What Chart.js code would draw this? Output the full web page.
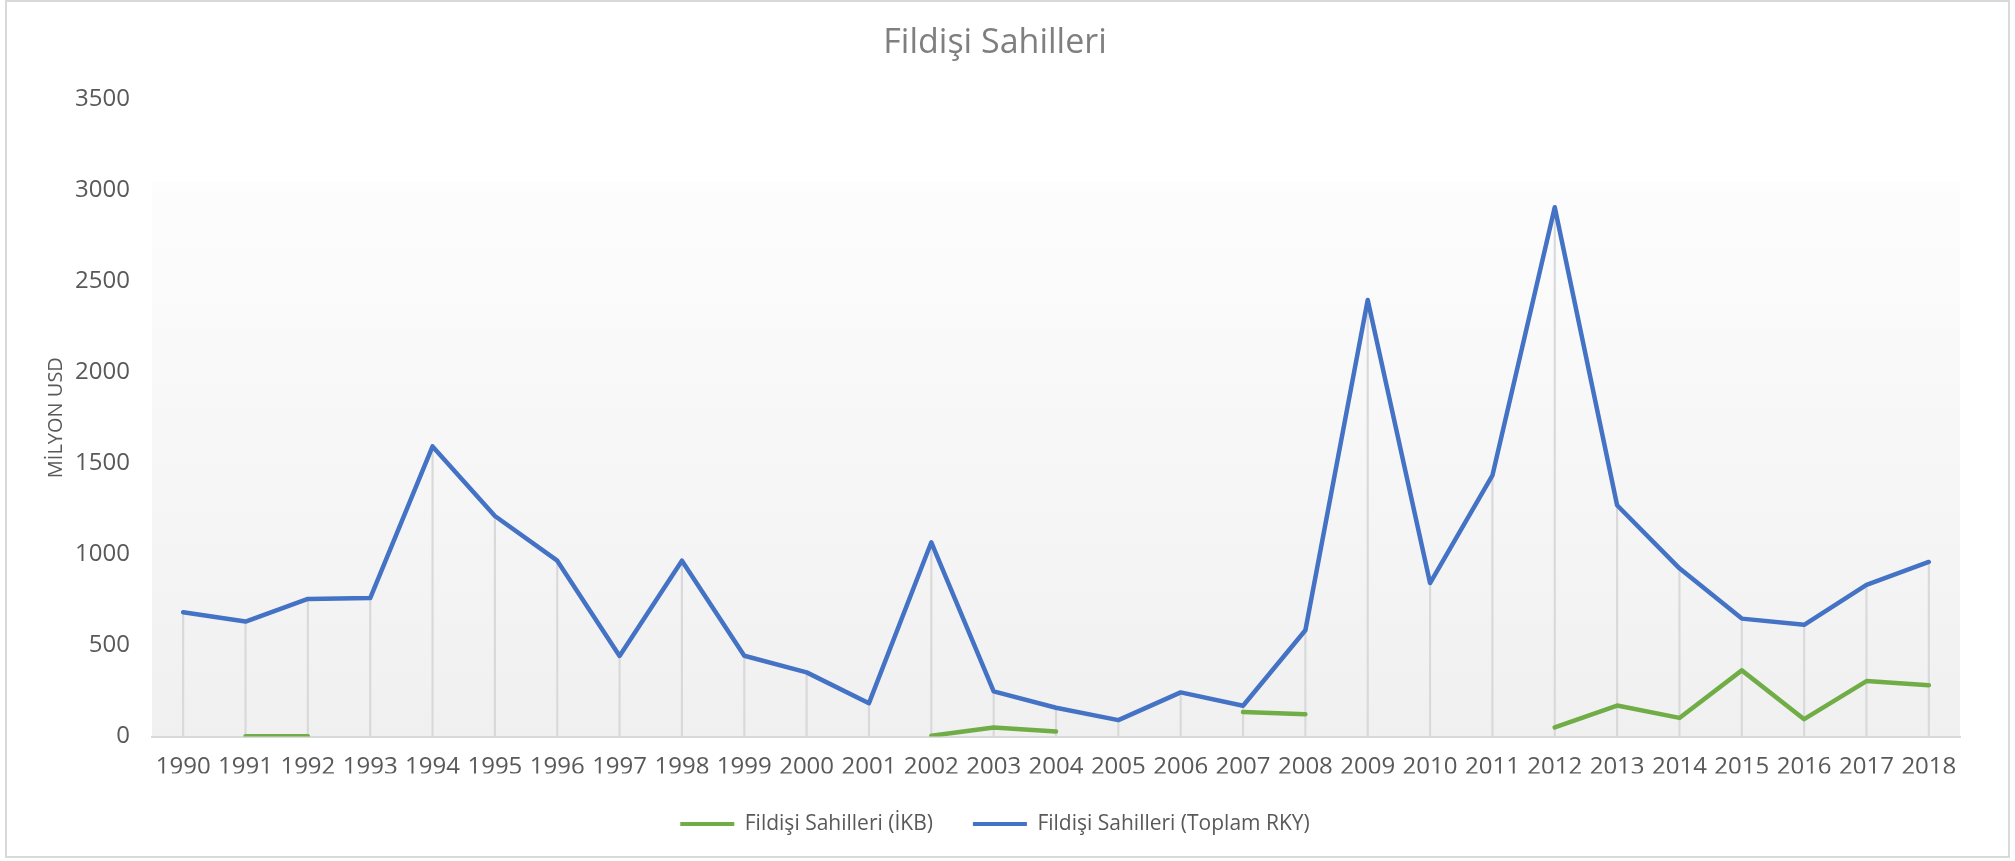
<!DOCTYPE html>
<html>
<head>
<meta charset="utf-8">
<script src="https://cdn.jsdelivr.net/npm/chart.js@4.4.0/dist/chart.umd.min.js"></script>
<style>
  html, body { margin: 0; padding: 0; background: #fff; }
  #wrap { width: 2015px; height: 861px; }
</style>
</head>
<body>
<div id="wrap"><canvas id="myChart" width="2015" height="861"></canvas></div>
<script>
// veriler
const yillar = ["1990", "1991", "1992", "1993", "1994", "1995", "1996", "1997", "1998", "1999",
	"2000", "2001", "2002", "2003", "2004", "2005", "2006", "2007", "2008", "2009",
	"2010", "2011", "2012", "2013", "2014", "2015", "2016", "2017", "2018"];

const ikb = [null, 2, 1, null, null, null, null, null, null, null,
	null, null, 4, 49, 27, null, null, 134, 122, null,
	null, null, 50, 170, 102, 363, 95, 304, 281];

const toplamRky = [682, 631, 755, 760, 1592, 1210, 965, 442, 965, 443,
	352, 183, 1066, 248, 158, 90, 242, 169, 583, 2396,
	842, 1433, 2905, 1269, 923, 647, 613, 832, 958];

const yEksenMax = 3500;
const yEksenAdim = 500;

const baslik = "Fildişi Sahilleri";
const seriAdlari = ["Fildişi Sahilleri (İKB)", "Fildişi Sahilleri (Toplam RKY)"];
const yEksenBaslik = "MİLYON USD";

const yesil = "#70AD47";
const mavi = "#4472C4";
const yaziRengi = "#595959";
const font = "'Open Sans', 'Liberation Sans', sans-serif";

// arka plan ve cerceve
const arkaPlan = {
	id: "arkaPlan",
	beforeDraw(chart) {
		const { ctx, chartArea } = chart;
		const h = chartArea.bottom - chartArea.top;
		const ust = chartArea.top + h * 0.13;
		const grad = ctx.createLinearGradient(0, ust, 0, chartArea.bottom);
		grad.addColorStop(0, "#fdfdfd");
		grad.addColorStop(1, "#f0f0f0");
		ctx.save();
		ctx.fillStyle = grad;
		ctx.fillRect(chartArea.left, ust, chartArea.right - chartArea.left, chartArea.bottom - ust);
		ctx.restore();
	},
	afterDraw(chart) {
		const ctx = chart.ctx;
		ctx.save();
		ctx.strokeStyle = "#d9d9d9";
		ctx.lineWidth = 2;
		ctx.strokeRect(6, 1, 2003, 856);
		ctx.restore();
	}
};

const ctx = document.getElementById("myChart");

let grafik = new Chart(ctx, {
	type: "line",
	data: {
		labels: yillar,
		datasets: [
			{
				label: seriAdlari[0],
				data: ikb,
				borderColor: yesil,
				backgroundColor: yesil,
				borderWidth: 4.5,
				borderCapStyle: "round",
				borderJoinStyle: "round",
				pointRadius: 0,
				spanGaps: false,
				order: 1,
			},
			{
				label: seriAdlari[1],
				data: toplamRky,
				borderColor: mavi,
				backgroundColor: mavi,
				borderWidth: 4.5,
				borderCapStyle: "round",
				borderJoinStyle: "round",
				pointRadius: 0,
				order: 2,
			},
			{
				// dikey inis cizgileri
				type: "bar",
				label: "dusey",
				data: toplamRky,
				backgroundColor: "#d9d9d9",
				barThickness: 1.5,
				order: 3,
			},
		],
	},
	options: {
		responsive: false,
		devicePixelRatio: 1,
		animation: false,
		layout: {
			padding: { top: 0, left: 30, right: 55, bottom: 16.5 },
		},
		plugins: {
			title: {
				display: true,
				text: baslik,
				color: "#7f7f7f",
				font: { family: font, size: 34, weight: "normal" },
				padding: { top: 23, bottom: 35 },
			},
			legend: {
				position: "bottom",
				labels: {
					color: yaziRengi,
					font: { family: font, size: 21 },
					boxWidth: 54,
					boxHeight: 4,
					padding: 40,
					filter: (item) => item.datasetIndex < 2,
					generateLabels(chart) {
						const items = Chart.defaults.plugins.legend.labels.generateLabels(chart);
						items.forEach((it) => {
							it.lineWidth = 0;
							it.fillStyle = it.strokeStyle;
						});
						return items;
					},
				},
			},
			tooltip: { enabled: false },
		},
		scales: {
			x: {
				offset: true,
				grid: { display: false, drawTicks: false },
				border: { display: true, color: "#d9d9d9", width: 2 },
				ticks: {
					color: yaziRengi,
					font: { family: font, size: 24 },
					padding: 16,
					autoSkip: false,
					maxRotation: 0,
				},
				afterFit(scale) {
					scale.height = 37;
				},
			},
			y: {
				min: 0,
				max: yEksenMax,
				grid: { display: false, drawTicks: false },
				border: { display: false },
				ticks: {
					stepSize: yEksenAdim,
					color: yaziRengi,
					font: { family: font, size: 24 },
					padding: 22,
					callback: (v) => String(v),
				},
				title: {
					display: true,
					text: yEksenBaslik,
					color: yaziRengi,
					font: { family: font, size: 20 },
					padding: { top: 14, bottom: 0 },
				},
				afterFit(scale) {
					scale.width = 122;
				},
			},
		},
	},
	plugins: [arkaPlan],
});
</script>
</body>
</html>
